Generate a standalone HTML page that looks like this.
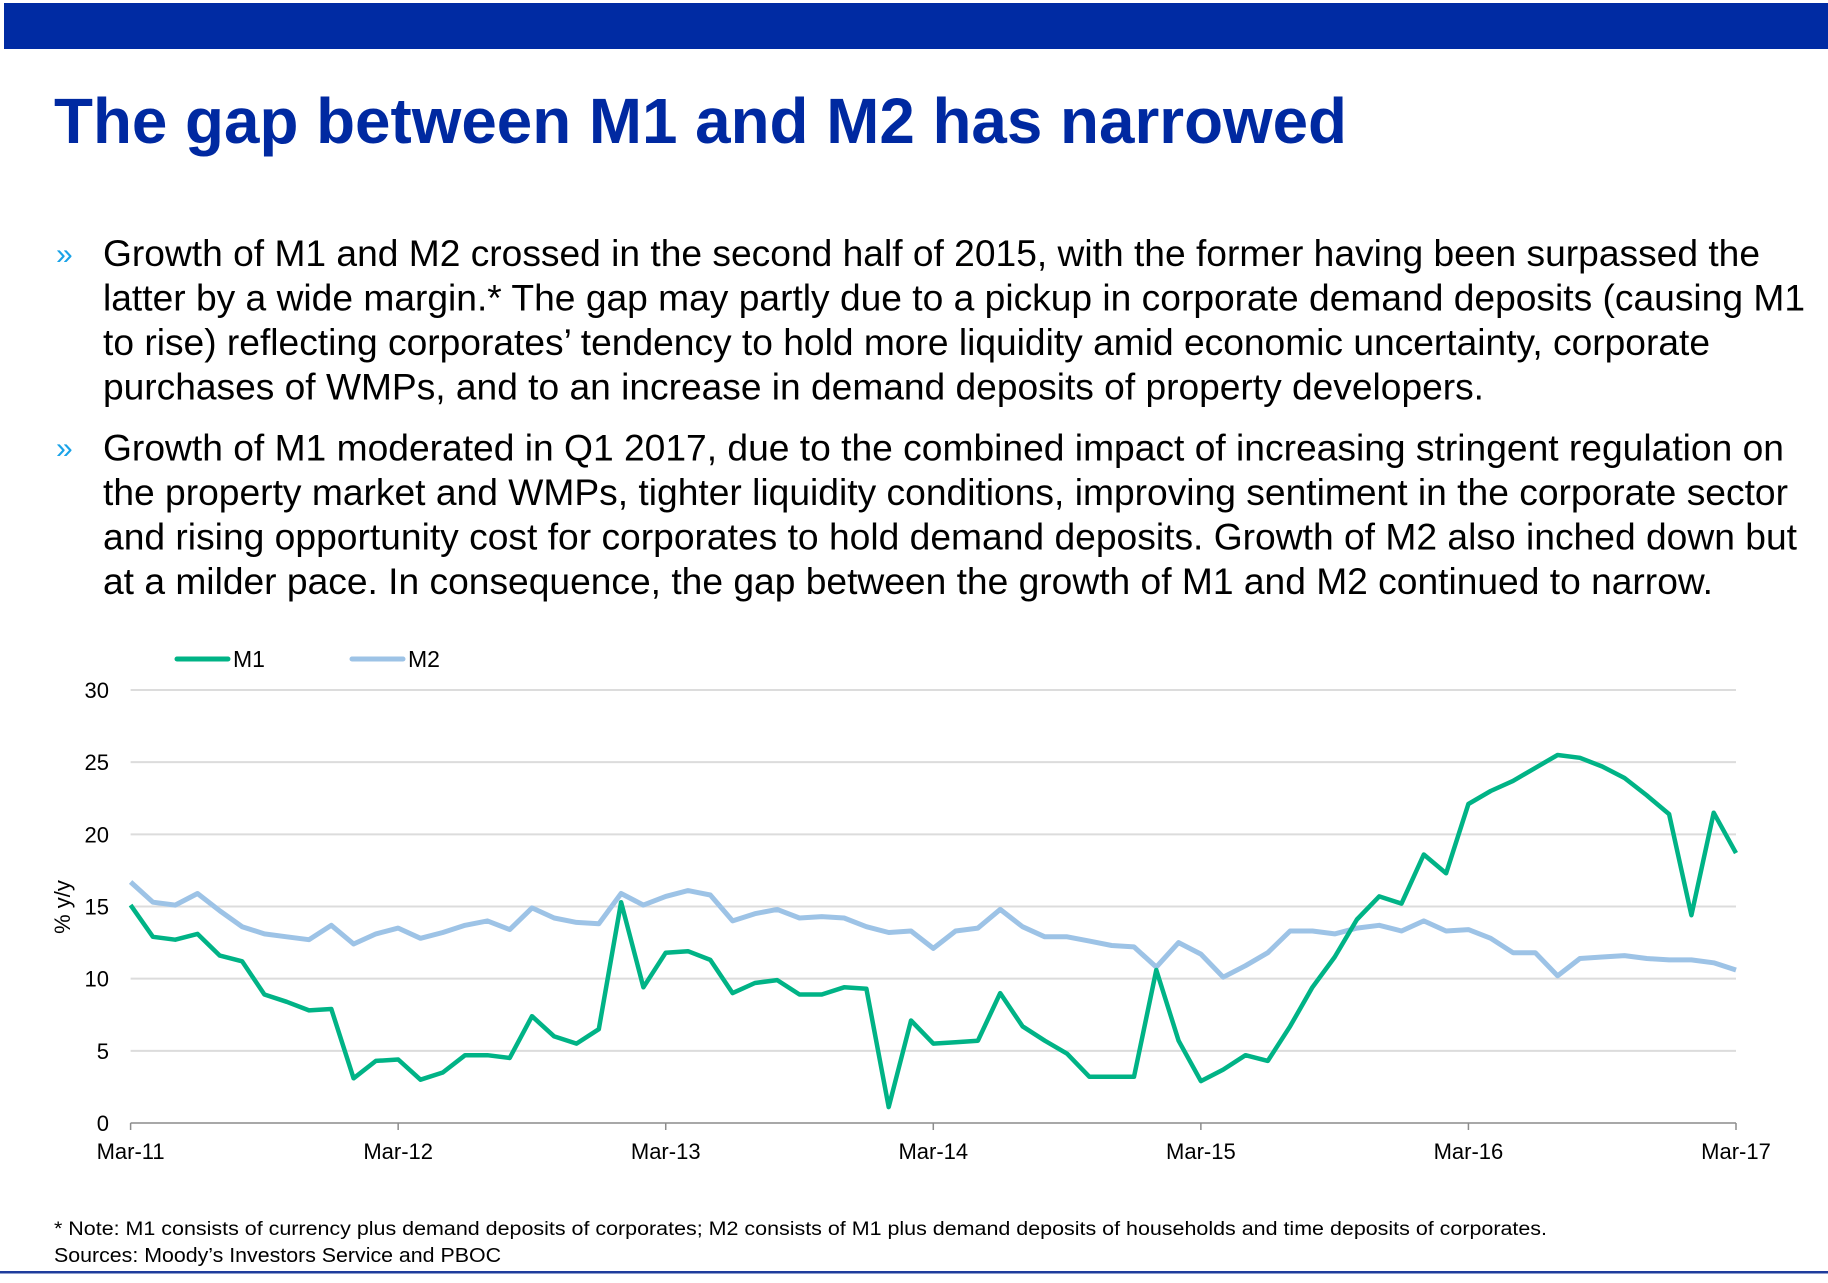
<!DOCTYPE html>
<html><head><meta charset="utf-8"><style>
html,body{margin:0;padding:0;background:#fff;}
svg{display:block;font-family:"Liberation Sans",Arial,sans-serif;}
</style></head><body>
<svg id="page" width="1828" height="1283" viewBox="0 0 1828 1283" xmlns="http://www.w3.org/2000/svg">
<rect x="4" y="3" width="1824" height="46" fill="#002BA3"/>
<text x="54" y="143" font-size="64" font-weight="bold" fill="#0029A1" textLength="1293" lengthAdjust="spacingAndGlyphs">The gap between M1 and M2 has narrowed</text>
<g font-size="37" fill="#000">
<text x="56" y="264" font-size="30" fill="#1aa3e8">»</text>
<text x="103" y="266" textLength="1657" lengthAdjust="spacingAndGlyphs">Growth of M1 and M2 crossed in the second half of 2015, with the former having been surpassed the</text>
<text x="103" y="310.5" textLength="1702" lengthAdjust="spacingAndGlyphs">latter by a wide margin.* The gap may partly due to a pickup in corporate demand deposits (causing M1</text>
<text x="103" y="355" textLength="1607" lengthAdjust="spacingAndGlyphs">to rise) reflecting corporates’ tendency to hold more liquidity amid economic uncertainty, corporate</text>
<text x="103" y="399.5" textLength="1381" lengthAdjust="spacingAndGlyphs">purchases of WMPs, and to an increase in demand deposits of property developers.</text>
<text x="56" y="458" font-size="30" fill="#1aa3e8">»</text>
<text x="103" y="460.5" textLength="1681" lengthAdjust="spacingAndGlyphs">Growth of M1 moderated in Q1 2017, due to the combined impact of increasing stringent regulation on</text>
<text x="103" y="505" textLength="1685" lengthAdjust="spacingAndGlyphs">the property market and WMPs, tighter liquidity conditions, improving sentiment in the corporate sector</text>
<text x="103" y="549.5" textLength="1694" lengthAdjust="spacingAndGlyphs">and rising opportunity cost for corporates to hold demand deposits. Growth of M2 also inched down but</text>
<text x="103" y="594" textLength="1610" lengthAdjust="spacingAndGlyphs">at a milder pace. In consequence, the gap between the growth of M1 and M2 continued to narrow.</text>
</g>
<g>
<line x1="177" y1="659" x2="228" y2="659" stroke="#00B386" stroke-width="5" stroke-linecap="round"/>
<text x="233" y="667" font-size="23">M1</text>
<line x1="352" y1="659" x2="403" y2="659" stroke="#9DC3E6" stroke-width="5" stroke-linecap="round"/>
<text x="408" y="667" font-size="23">M2</text>
</g>
<g id="grid"></g>
<g id="yticks" font-size="22" text-anchor="end"></g>
<g id="xaxis" font-size="22" text-anchor="middle"></g>
<text transform="translate(70,907) rotate(-90)" font-size="22" text-anchor="middle">% y/y</text>
<g id="series"></g>
<text x="54" y="1235" font-size="19" textLength="1493" lengthAdjust="spacingAndGlyphs">* Note: M1 consists of currency plus demand deposits of corporates; M2 consists of M1 plus demand deposits of households and time deposits of corporates.</text>
<text x="54" y="1262" font-size="20" textLength="447" lengthAdjust="spacingAndGlyphs">Sources: Moody’s Investors Service and PBOC</text>
<rect x="0" y="1271" width="1828" height="2.5" fill="#1f3c9c"/>
</svg>
<script>
const yTickValues = [0,5,10,15,20,25,30];
const xTickLabels = ["Mar-11","Mar-12","Mar-13","Mar-14","Mar-15","Mar-16","Mar-17"];
const m1Values = [15.1,12.9,12.7,13.1,11.6,11.2,8.9,8.4,7.8,7.9,3.1,4.3,4.4,3.0,3.5,4.7,4.7,4.5,7.4,6.0,5.5,6.5,15.3,9.4,11.8,11.9,11.3,9.0,9.7,9.9,8.9,8.9,9.4,9.3,1.1,7.1,5.5,5.6,5.7,9.0,6.7,5.7,4.8,3.2,3.2,3.2,10.6,5.7,2.9,3.7,4.7,4.3,6.7,9.4,11.5,14.1,15.7,15.2,18.6,17.3,22.1,23.0,23.7,24.6,25.5,25.3,24.7,23.9,22.7,21.4,14.4,21.5,18.7];
const m2Values = [16.7,15.3,15.1,15.9,14.7,13.6,13.1,12.9,12.7,13.7,12.4,13.1,13.5,12.8,13.2,13.7,14.0,13.4,14.9,14.2,13.9,13.8,15.9,15.1,15.7,16.1,15.8,14.0,14.5,14.8,14.2,14.3,14.2,13.6,13.2,13.3,12.1,13.3,13.5,14.8,13.6,12.9,12.9,12.6,12.3,12.2,10.8,12.5,11.7,10.1,10.9,11.8,13.3,13.3,13.1,13.5,13.7,13.3,14.0,13.3,13.4,12.8,11.8,11.8,10.2,11.4,11.5,11.6,11.4,11.3,11.3,11.1,10.6];
const NS='http://www.w3.org/2000/svg';
const X0=130.6,X1=1736,Y0=1123,Y30=690;
const nMonths=m1Values.length-1;
function xPos(i){return X0+(X1-X0)*i/nMonths;}
function yPos(v){return Y0-(Y0-Y30)*v/30;}
function mk(tag,attrs){const e=document.createElementNS(NS,tag);for(const k in attrs)e.setAttribute(k,attrs[k]);return e;}
const grid=document.getElementById('grid'),yt=document.getElementById('yticks'),xa=document.getElementById('xaxis'),ser=document.getElementById('series');
yTickValues.forEach(v=>{
  if(v>0){const l=mk('line',{x1:X0,x2:X1,y1:yPos(v),y2:yPos(v),stroke:'#dcdcdc','stroke-width':2});
  
  
  grid.appendChild(l);}
  const t=mk('text',{x:109,y:yPos(v)+8});t.textContent=v;
  
  
  yt.appendChild(t);
});
const ax=mk('line',{x1:X0,x2:X1,y1:Y0,y2:Y0,stroke:'#8c8c8c','stroke-width':1.5});


xa.appendChild(ax);
xTickLabels.forEach((lab,k)=>{
  const x=xPos(k*12);
  const tk=mk('line',{x1:x,x2:x,y1:Y0,y2:Y0+7,stroke:'#8c8c8c','stroke-width':1.5});
  
  
  xa.appendChild(tk);
  const t=mk('text',{x:x,y:1159});t.textContent=lab;
  
  
  xa.appendChild(t);
});
function line(vals,color,w,name){
  const d=vals.map((v,i)=>(i?'L':'M')+xPos(i).toFixed(1)+','+yPos(v).toFixed(1)).join(' ');
  const p=mk('path',{d:d,fill:'none',stroke:color,'stroke-width':w,'stroke-linejoin':'round'});
  
  
  ser.appendChild(p);
}
line(m2Values,'#9DC3E6',5,'m2-line');
line(m1Values,'#00B386',4.5,'m1-line');
</script>
</body></html>
